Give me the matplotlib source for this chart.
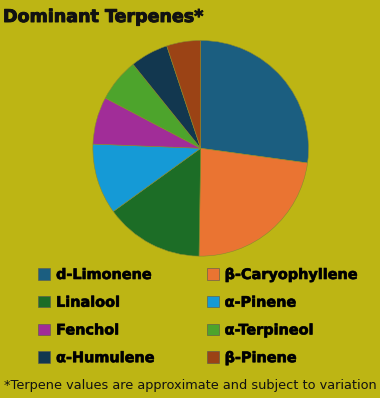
import matplotlib.pyplot as plt
import matplotlib.patheffects as pe
from matplotlib.patches import Patch

terpenes = ['d-Limonene', 'β-Caryophyllene', 'Linalool', 'α-Pinene',
            'Fenchol', 'α-Terpineol', 'α-Humulene', 'β-Pinene']
shares = [27.2, 23.1, 14.8, 10.6, 7.1, 6.5, 5.7, 5.1]
colors = ['#1B5E80', '#EA7432', '#1C6D26', '#159AD6',
          '#A12D98', '#4DA42C', '#12374F', '#9B4315']
bg = '#BDB514'

plt.rcParams['font.family'] = ['DejaVu Sans']
heavy = [pe.withStroke(linewidth=0.7, foreground='#111111')]

fig = plt.figure(figsize=(3.8, 3.98), dpi=100, facecolor=bg)
ax = fig.add_axes([200.7/380 - 110/380, 1 - (148.3 + 110)/398, 220/380, 220/398])
ax.set_facecolor(bg)
ax.pie(shares, colors=colors, startangle=90, counterclock=False,
       wedgeprops=dict(linewidth=0.4, edgecolor='#8a8a30'))
ax.set_aspect('equal')
ax.set_xlim(-1.02, 1.02)
ax.set_ylim(-1.02, 1.02)

fig.text(3/380, 1 - 17/398, 'Dominant Terpenes*', fontsize=12.6, fontweight='bold',
         va='center', ha='left', color='#111111', path_effects=heavy)

# legend laid out row by row
order = [0, 2, 4, 6, 1, 3, 5, 7]
handles = [Patch(facecolor=colors[i], edgecolor='#555555', linewidth=0.4,
                 label=terpenes[i]) for i in order]
leg = fig.legend(handles=handles, ncol=2, loc='upper left',
                 bbox_to_anchor=(38/380, 1 - 268/398), frameon=False,
                 prop=dict(size=10.4, weight='bold'), handlelength=0.85, handleheight=0.85,
                 handletextpad=0.4, columnspacing=3.6, labelspacing=0.95,
                 borderaxespad=0, borderpad=0)
for t in leg.get_texts():
    t.set_path_effects([pe.withStroke(linewidth=0.5, foreground='#111111')])

fig.text(190/380, 1 - 386/398, '*Terpene values are approximate and subject to variation',
         fontsize=9.3, ha='center', va='center', color='#111111')

fig.savefig('out.png', dpi=100, facecolor=bg)
